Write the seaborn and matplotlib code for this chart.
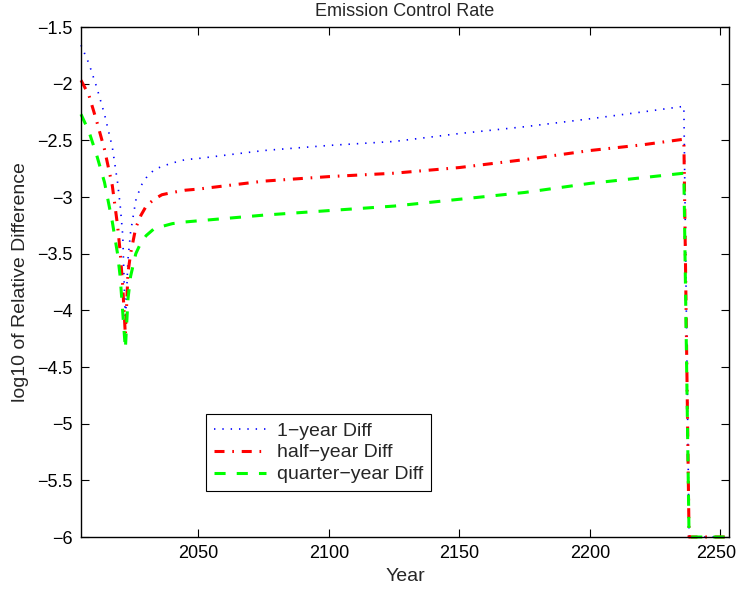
import numpy as np
import pandas as pd
import matplotlib
matplotlib.use("Agg")
import matplotlib.pyplot as plt
import matplotlib.transforms as mtransforms
import seaborn as sns

# Model years at which the relative differences were evaluated
years = [2005, 2008, 2011, 2014, 2017, 2019, 2020, 2021, 2022, 2023, 2024,
         2026, 2028, 2030, 2033, 2036, 2040, 2045, 2050, 2075, 2100, 2125,
         2150, 2175, 2200, 2220, 2236, 2238, 2253.3]

# log10 of relative difference for each time-step refinement
one_year = [-1.66, -1.82, -2.03, -2.27, -2.56, -2.87, -3.07, -3.34, -4.12, -3.55, -3.31,
            -3.03, -2.90, -2.83, -2.76, -2.73, -2.70, -2.67, -2.66, -2.59, -2.545, -2.51,
            -2.44, -2.38, -2.31, -2.25, -2.20, -6.0, -6.0]
half_year = [-1.97, -2.10, -2.33, -2.58, -2.90, -3.25, -3.48, -3.79, -4.22, -3.67, -3.50,
             -3.27, -3.16, -3.08, -3.02, -2.98, -2.96, -2.94, -2.93, -2.86, -2.82, -2.79,
             -2.74, -2.67, -2.59, -2.54, -2.49, -6.0, -6.0]
quarter_year = [-2.27, -2.42, -2.63, -2.87, -3.22, -3.50, -3.70, -4.02, -4.34, -3.90, -3.70,
                -3.50, -3.40, -3.34, -3.28, -3.26, -3.235, -3.22, -3.21, -3.16, -3.12, -3.08,
                -3.02, -2.96, -2.88, -2.83, -2.79, -6.0, -6.0]

series_names = ["1\u2212year Diff", "half\u2212year Diff", "quarter\u2212year Diff"]
x_ticks = [2050, 2100, 2150, 2200, 2250]
y_ticks = [-1.5, -2, -2.5, -3, -3.5, -4, -4.5, -5, -5.5, -6]

sns.set_theme(style="ticks")
plt.rcParams["font.family"] = ["Liberation Sans", "DejaVu Sans"]
plt.rcParams["lines.scale_dashes"] = False
plt.rcParams["axes.unicode_minus"] = True

df = pd.DataFrame({
    "Year": years * 3,
    "value": one_year + half_year + quarter_year,
    "series": [series_names[0]] * len(years) + [series_names[1]] * len(years)
              + [series_names[2]] * len(years),
})

fig = plt.figure(figsize=(7.37, 5.91), dpi=100)
ax = fig.add_axes([81 / 737, 1 - 537 / 591, 648 / 737, 510 / 591])

styles = {
    series_names[0]: dict(color=(0, 0, 1), linewidth=1.2, linestyle=(0, (1.0, 5.0))),
    series_names[1]: dict(color=(1, 0, 0), linewidth=2.2, linestyle=(0, (7.2, 5.6, 1.2, 5.6))),
    series_names[2]: dict(color=(0, 1, 0), linewidth=2.2, linestyle=(0, (8.0, 8.0))),
}
for name in series_names:
    sub = df[df["series"] == name]
    sns.lineplot(data=sub, x="Year", y="value", ax=ax, label=name,
                 errorbar=None, sort=False, clip_on=False, **styles[name])

ax.set_xlim(2005, 2253.3)
ax.set_ylim(-6, -1.5)
ax.set_xticks(x_ticks)
ax.set_yticks(y_ticks)
ax.set_yticklabels([("%g" % v).replace("-", "\u2212") for v in y_ticks])
ax.tick_params(direction="in", length=6, width=0.8, top=True, right=True,
               labelsize=13, colors="black", pad=6)
for sp in ax.spines.values():
    sp.set_visible(True)
    sp.set_linewidth(1.0)
    sp.set_color("black")

# keep the last year label inside the canvas
last = ax.get_xticklabels()[-1]
last.set_transform(last.get_transform()
                   + mtransforms.ScaledTranslation(-4 / 100, 0, fig.dpi_scale_trans))

ax.set_xlabel("Year", fontsize=14, labelpad=4)
ax.set_ylabel("log10 of Relative Difference", fontsize=14, labelpad=6)
ax.set_title("Emission Control Rate", fontsize=13, pad=8)

leg = ax.legend(loc="lower left", bbox_to_anchor=(0.193, 0.09), fontsize=14,
                frameon=True, fancybox=False, framealpha=1, edgecolor="black",
                handlelength=2.7, handletextpad=0.55, labelspacing=0.22,
                borderpad=0.4, borderaxespad=0)
leg.get_frame().set_linewidth(0.8)

fig.savefig("out.png", dpi=100)
